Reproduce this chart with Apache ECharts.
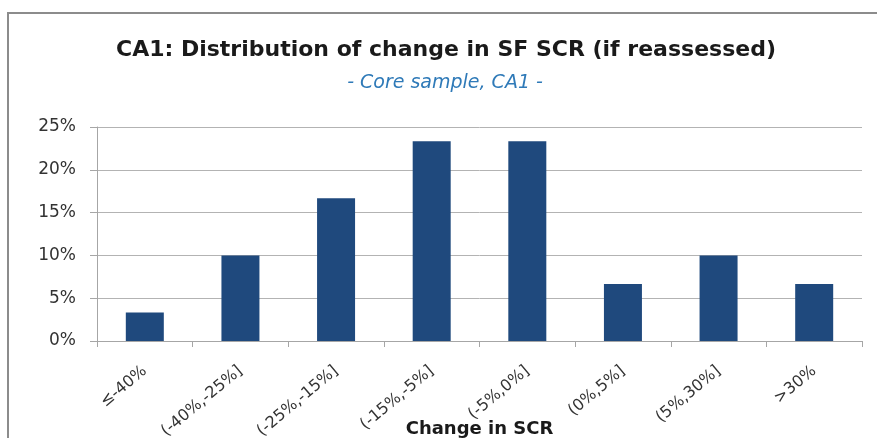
<!DOCTYPE html>
<html>
<head>
<meta charset="utf-8">
<script src="https://cdn.jsdelivr.net/npm/echarts@6/dist/echarts.min.js"></script>
<style>
html,body{margin:0;padding:0;background:#fff;}
#chart{width:877px;height:438px;}
</style>
</head>
<body>
<div id="chart"></div>
<script>
const categories = ['≤-40%', '(-40%,-25%]', '(-25%,-15%]', '(-15%,-5%]', '(-5%,0%]', '(0%,5%]', '(5%,30%]', '>30%'];
const shares = [3.33, 10, 16.67, 23.33, 23.33, 6.67, 10, 6.67];
const yTicks = [0, 5, 10, 15, 20, 25];

const chart = echarts.init(document.getElementById('chart'), null, {renderer: 'canvas'});
const FONT = '"DejaVu Sans", sans-serif';
chart.setOption({
  animation: false,
  backgroundColor: '#ffffff',
  title: [{
    text: 'CA1: Distribution of change in SF SCR (if reassessed)',
    left: 441,
    textAlign: 'center',
    top: 34,
    textStyle: {fontFamily: FONT, fontWeight: 'bold', fontSize: 22, color: '#1a1a1a'}
  }, {
    text: '- Core sample, CA1 -',
    left: 440,
    textAlign: 'center',
    top: 69,
    textStyle: {fontFamily: FONT, fontStyle: 'italic', fontWeight: 'normal', fontSize: 19, color: '#2f7ab8'}
  }],
  graphic: [{
    type: 'rect',
    shape: {x: 8, y: 13, width: 900, height: 460},
    style: {fill: 'none', stroke: '#8c8c8c', lineWidth: 2},
    silent: true
  }],
  grid: {left: 97, right: 15, top: 127, bottom: 97, containLabel: false, outerBoundsMode: 'none'},
  xAxis: {
    type: 'category',
    data: categories,
    name: 'Change in SCR',
    nameLocation: 'middle',
    nameGap: 79,
    nameMoveOverlap: false,
    nameTextStyle: {fontFamily: FONT, fontWeight: 'bold', fontSize: 18, color: '#1a1a1a'},
    axisLine: {lineStyle: {color: '#a6a6a6', width: 1}},
    axisTick: {show: true, length: 6, alignWithLabel: false, lineStyle: {color: '#a6a6a6'}},
    axisLabel: {rotate: 40, fontFamily: FONT, fontSize: 16, color: '#333', margin: 28, interval: 0}
  },
  yAxis: {
    type: 'value',
    min: yTicks[0],
    max: yTicks[yTicks.length - 1],
    interval: 5,
    axisLine: {show: true, lineStyle: {color: '#a6a6a6', width: 1}},
    axisTick: {show: true, length: 7, lineStyle: {color: '#a6a6a6'}},
    splitLine: {lineStyle: {color: '#b3b3b3', width: 1}},
    axisLabel: {formatter: v => v + '%', fontFamily: FONT, fontSize: 17, color: '#333', margin: 21}
  },
  series: [{
    type: 'bar',
    data: shares,
    barWidth: 38,
    itemStyle: {color: '#1f497d'}
  }]
});
</script>
</body>
</html>
